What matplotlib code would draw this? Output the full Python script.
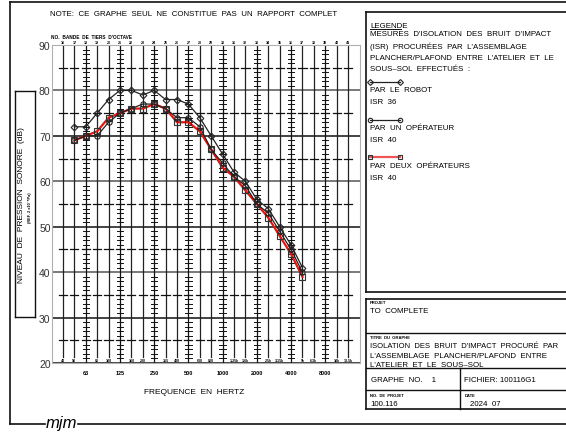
import matplotlib
matplotlib.use("Agg")
import matplotlib.pyplot as plt
from matplotlib.lines import Line2D

plt.rcParams["font.family"] = ["Liberation Sans", "DejaVu Sans"]

W, H = 566, 435

# ---------------------- Data ----------------------
band_numbers = [16, 17, 18, 19, 20, 21, 22, 23, 24, 25, 26, 27, 28,
                29, 30, 31, 32, 33, 34, 35, 36, 37, 38, 39, 40, 41]
band_freqs = ["40", "50", "63", "80", "100", "125", "160", "200", "250",
              "315", "400", "500", "630", "800", "1000", "1.25k", "1.6k",
              "2000", "2.5k", "3.15k", "4000", "5k", "6.3k", "8000",
              "10k", "12.5k"]
octave_bands = [18, 21, 24, 27, 30, 33, 36, 39]
octave_labels = ["63", "125", "250", "500", "1000", "2000", "4000", "8000"]
y_levels = [20, 30, 40, 50, 60, 70, 80, 90]

meas_bands = [17, 18, 19, 20, 21, 22, 23, 24, 25, 26, 27,
              28, 29, 30, 31, 32, 33, 34, 35, 36, 37]
isr_robot = [72, 72, 75, 78, 80, 80, 79, 80, 78, 78, 77,
             74, 70, 66, 62, 60, 56, 54, 50, 46, 41]
isr_one_op = [69, 70, 70, 73, 75, 76, 77, 77, 76, 74, 74,
              72, 67, 64, 61, 59, 55, 53, 49, 45, 40]
isr_two_op = [69, 70, 71, 74, 75, 76, 76, 77, 76, 73, 73,
              71, 67, 63, 61, 58, 55, 52, 48, 44, 39]

TXT = 5.7  # main text size (pt)


def fx(x):
    return x / W


def fy(y):
    return 1 - y / H


def fline(x0, y0, x1, y1, lw=1.0, color="#111111"):
    fig.add_artist(Line2D([fx(x0), fx(x1)], [fy(y0), fy(y1)],
                          transform=fig.transFigure, lw=lw, color=color))


def ftext(x, y, s, size=TXT, **kw):
    fig.text(fx(x), fy(y), s, fontsize=size, **kw)


fig = plt.figure(figsize=(W / 100, H / 100), dpi=100)

# ---------------------- Plot area ----------------------
ax = fig.add_axes([fx(52), fy(364), (360 - 52) / W, (364 - 46) / H])
ax.set_xlim(15.04, 42.05)
ax.set_ylim(20, 90)
ax.set_xticks([])
ax.set_yticks(y_levels)
ax.set_yticklabels([str(v) for v in y_levels])
ax.tick_params(axis="y", length=0, pad=1, labelsize=7.5, labelcolor="#333333")
for s in ax.spines.values():
    s.set_color("#b0b0b0")
    s.set_linewidth(0.8)

# horizontal lines every 10 dB
for lev in y_levels:
    col = "#111111" if lev in (20, 30, 50, 70, 90) else "#555555"
    ax.axhline(lev, color=col, lw=1.1, zorder=1)

# vertical band lines + tick marks
for b, f in zip(band_numbers, band_freqs):
    if b in octave_bands:
        ax.plot([b, b], [20, 90], color="#111111", lw=0.9, zorder=1)
        for lev in range(21, 90):
            if lev % 5 == 0:
                continue
            ax.plot([b - 0.28, b + 0.28], [lev, lev], color="#111111", lw=0.7, zorder=1)
    else:
        ax.plot([b, b], [21.3, 90], color="#222222", lw=0.9, zorder=1)
        ax.text(b, 20.65, f, fontsize=2.6, fontweight="bold", ha="center", va="center")
    for lev in (25, 35, 45, 55, 65, 75, 85):
        ax.plot([b - 0.36, b + 0.36], [lev, lev], color="#111111", lw=0.9, zorder=1)
    ax.text(b, 90.7, str(b), fontsize=2.6, fontweight="bold", ha="center", va="center",
            clip_on=False)

for b, lab in zip(octave_bands, octave_labels):
    ax.text(b, 18.0, lab, fontsize=4.0, fontweight="bold", ha="center", va="center",
            clip_on=False)

# ---------------------- Measured curves ----------------------
ax.plot(meas_bands, isr_two_op, color="#e8150f", lw=1.6, marker="s", ms=3.8,
        mfc="none", mec="#333333", mew=0.8, zorder=3)
ax.plot(meas_bands, isr_one_op, color="#222222", lw=0.9, marker="o", ms=3.8,
        mfc="none", mec="#222222", mew=0.8, zorder=4)
ax.plot(meas_bands, isr_robot, color="#222222", lw=0.9, marker="D", ms=3.4,
        mfc="none", mec="#222222", mew=0.8, zorder=5)

# ---------------------- Titles and labels ----------------------
ftext(50, 15, "NOTE:  CE  GRAPHE  SEUL  NE  CONSTITUE  PAS  UN  RAPPORT  COMPLET",
      size=5.7, va="center")
ftext(51, 37.3, "NO.  BANDE  DE  TIERS  D'OCTAVE", size=3.4, fontweight="bold", va="center")
ftext(194, 393, "FREQUENCE  EN  HERTZ", size=6, ha="center", va="center")

# y label box
fline(15, 92, 35, 92)
fline(15, 318, 35, 318)
fline(15, 92, 15, 318)
fline(35, 92, 35, 318)
ftext(22, 205, "NIVEAU  DE  PRESSION  SONORE  (dB)", size=6, rotation=90,
      ha="center", va="center")
ftext(30, 208, "(REF. 2 x10⁻⁵Pa)", size=2.8, fontweight="bold", rotation=90,
      ha="center", va="center")

# outer frame
fline(10, 3, 566, 3, lw=1.2)
fline(10, 3, 10, 425, lw=1.2)
fline(10, 425, 45, 425, lw=1.2)
fline(78, 425, 566, 425, lw=1.2)
ftext(46, 424, "mjm", size=12, style="italic", va="center")

# ---------------------- Legend panel ----------------------
fline(366, 13, 566, 13, lw=1.2)
fline(366, 13, 366, 293, lw=1.2)
fline(366, 293, 566, 293, lw=1.2)

ftext(370, 26, "LEGENDE", va="center")
fline(370, 30, 401, 30, lw=0.7)
legend_lines = ["MESURES  D'ISOLATION  DES  BRUIT  D'IMPACT",
                "(ISR)  PROCURÉES  PAR  L'ASSEMBLAGE",
                "PLANCHER/PLAFOND  ENTRE  L'ATELIER  ET  LE",
                "SOUS–SOL  EFFECTUÉS  :"]
for i, t in enumerate(legend_lines):
    ftext(370, 34.5 + i * 11.8, t, va="center")

fig.add_artist(Line2D([fx(370), fx(400)], [fy(83), fy(83)], transform=fig.transFigure,
                      color="#222222", lw=0.9, marker="D", ms=3, mfc="none", mew=0.8))
ftext(370, 90, "PAR  LE  ROBOT", va="center")
ftext(370, 102, "ISR  36", va="center")

fig.add_artist(Line2D([fx(370), fx(400)], [fy(121), fy(121)], transform=fig.transFigure,
                      color="#222222", lw=0.9, marker="o", ms=3.2, mfc="none", mew=0.8))
ftext(370, 129, "PAR  UN  OPÉRATEUR", va="center")
ftext(370, 141, "ISR  40", va="center")

fig.add_artist(Line2D([fx(370), fx(400)], [fy(158), fy(158)], transform=fig.transFigure,
                      color="#ee5555", lw=1.6, marker="s", ms=3.2, mfc="none",
                      mec="#333333", mew=0.8))
ftext(370, 166, "PAR  DEUX  OPÉRATEURS", va="center")
ftext(370, 178, "ISR  40", va="center")

# ---------------------- Title block ----------------------
fline(366, 300, 566, 300, lw=1.2)
fline(366, 300, 366, 410, lw=1.2)
fline(366, 334, 566, 334, lw=1.0)
fline(366, 369, 566, 369, lw=1.0)
fline(366, 391, 566, 391, lw=1.0)
fline(366, 410, 566, 410, lw=1.2)
fline(460, 369, 460, 410, lw=1.0)

ftext(370, 303.5, "PROJET", size=3, fontweight="bold", va="center")
ftext(370, 312, "TO  COMPLETE", va="center")
ftext(370, 338, "TITRE  DU  GRAPHE", size=3, fontweight="bold", va="center")
ftext(370, 346.5, "ISOLATION  DES  BRUIT  D'IMPACT  PROCURÉ  PAR", size=5.5, va="center")
ftext(370, 356.5, "L'ASSEMBLAGE  PLANCHER/PLAFOND  ENTRE", va="center")
ftext(370, 366, "L'ATELIER  ET  LE  SOUS–SOL", va="center")
ftext(371, 381, "GRAPHE  NO.    1", va="center")
ftext(464, 381, "FICHIER: 100116G1", va="center")
ftext(370, 396, "NO.  DE  PROJET", size=3, fontweight="bold", va="center")
ftext(370, 405, "100.116", va="center")
ftext(465, 396, "DATE", size=3, fontweight="bold", va="center")
ftext(470, 405, "2024  07", va="center")

fig.savefig("out.png", dpi=100)
